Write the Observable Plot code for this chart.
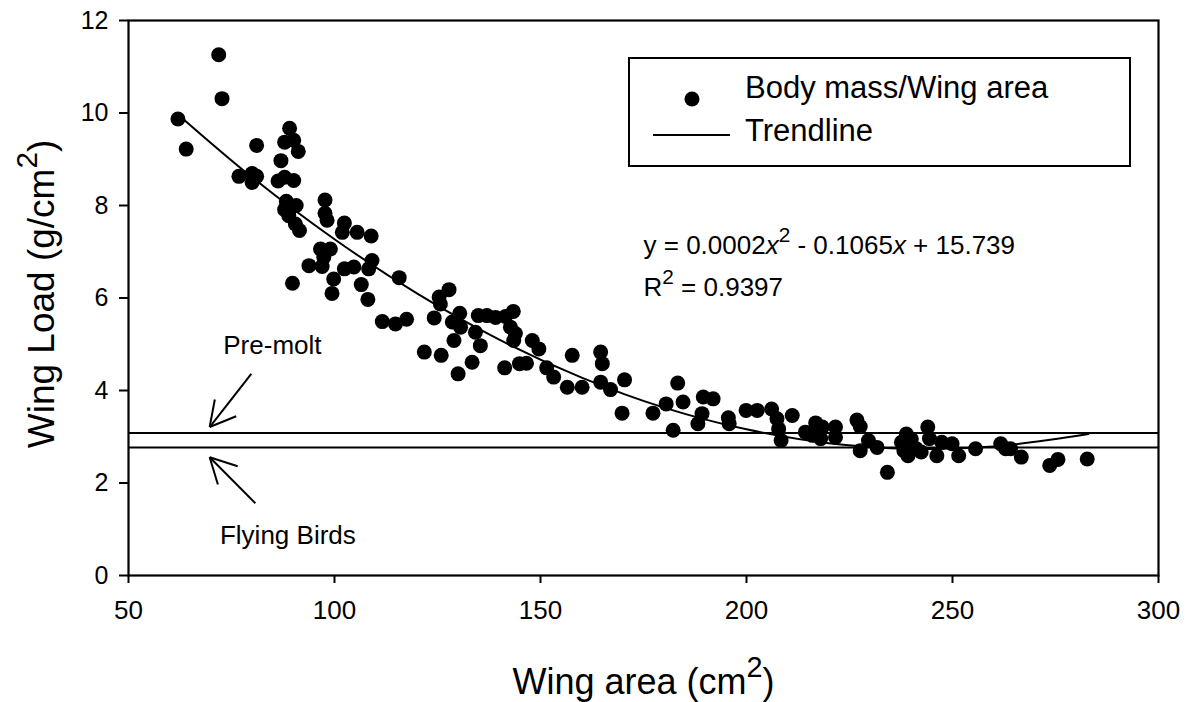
<!DOCTYPE html>
<html><head><meta charset="utf-8">
<script src="https://cdn.jsdelivr.net/npm/d3@7"></script>
<script src="https://cdn.jsdelivr.net/npm/@observablehq/plot@0.6"></script>
<style>
html,body{margin:0;padding:0;background:#fff;}
#chart svg{font-family:"Liberation Sans",Arial,sans-serif;}
</style></head><body><div id="chart"></div>
<script>
// ---- data ----
const wingArea = [
  71.9,72.7,62.0,64.0,81.1,89.1,87.9,90.1,91.2,87.0,76.8,80.0,81.1,80.0,86.3,87.9,90.1,88.3,90.7,87.9,
  88.9,90.5,91.5,97.7,97.7,98.2,102.4,101.9,105.5,108.9,96.6,99.0,97.4,93.8,97.0,102.4,104.7,109.1,108.3,115.7,
  99.8,106.5,89.8,99.4,108.1,
  111.6,114.8,117.5,121.8,125.9,130.0,133.4,129.0,135.4,124.2,127.8,125.4,125.7,130.4,128.6,130.6,134.2,134.9,137.0,139.1,
  141.5,143.4,142.7,143.9,143.5,148.0,149.6,141.3,144.9,146.6,151.5,153.2,157.7,164.6,165.0,156.5,160.1,164.6,167.0,
  170.4,169.8,177.3,180.5,183.3,184.6,182.2,189.5,191.9,189.2,188.2,195.6,195.8,199.9,202.6,206.1,207.4,207.8,208.4,211.1,
  214.3,216.8,218.4,216.0,218.0,221.6,221.6,226.8,227.6,227.6,229.6,231.7,
  234.2,238.8,237.6,239.6,239.2,241.2,242.4,244.0,244.4,246.2,247.4,249.9,251.5,255.6,261.7,262.9,264.1,266.7,273.6,275.6,
  282.7,238.2,240.0
];
const wingLoad = [
  11.26,10.31,9.87,9.22,9.30,9.67,9.37,9.41,9.17,8.97,8.63,8.69,8.63,8.50,8.53,8.61,8.54,8.09,8.00,7.91,
  7.78,7.60,7.46,8.12,7.83,7.68,7.62,7.42,7.42,7.34,7.06,7.06,6.88,6.70,6.68,6.63,6.67,6.81,6.63,6.44,
  6.41,6.29,6.32,6.10,5.97,
  5.49,5.44,5.54,4.83,4.76,4.36,4.61,5.08,4.97,5.57,6.18,6.02,5.87,5.67,5.48,5.37,5.26,5.62,5.62,5.58,
  5.60,5.71,5.37,5.23,5.08,5.08,4.90,4.49,4.58,4.59,4.49,4.29,4.76,4.83,4.58,4.07,4.07,4.18,4.02,
  4.23,3.51,3.51,3.71,4.16,3.75,3.14,3.86,3.82,3.50,3.28,3.41,3.28,3.57,3.57,3.60,3.39,3.17,2.92,3.46,
  3.10,3.30,3.21,3.03,2.96,3.21,2.99,3.36,3.22,2.70,2.92,2.77,
  2.23,3.06,2.88,2.81,2.59,2.74,2.67,3.21,2.96,2.59,2.88,2.85,2.59,2.74,2.85,2.74,2.74,2.56,2.38,2.51,
  2.52,2.70,2.95
];
const trendX = [62, 80, 100, 120, 140, 160, 180, 200, 220, 240, 260, 283];
const trendY = [9.97, 8.61, 7.27, 6.10, 5.10, 4.28, 3.63, 3.16, 2.86, 2.74, 2.79, 3.06];
const xTicks = [50, 100, 150, 200, 250, 300];
const yTicks = [0, 2, 4, 6, 8, 10, 12];
const preMoltLoad = 3.08;
const flyingLoad = 2.77;
const annotationLabels = ["Pre-molt", "Flying Birds"];
const annotationX = [73.0, 72.2];
const annotationY = [4.80, 0.685];
const arrowX1 = [79.8, 70.95, 76.14, 80.8, 71.7, 76.5];
const arrowY1 = [4.36, 3.805, 3.444, 1.563, 1.968, 2.363];
const arrowX2 = [69.7, 69.7, 69.7, 69.7, 69.7, 69.7];
const arrowY2 = [3.21, 3.21, 3.21, 2.558, 2.558, 2.558];
const equationLines = ["y = 0.0002{x}^2 - 0.1065{x} + 15.739", "R^2 = 0.9397"];
const equationX = 175.0;
const equationY = [6.955, 6.05];
const legendLabels = ["Body mass/Wing area", "Trendline"];
const xTitle = "Wing area (cm^2)";
const yTitle = "Wing Load (g/cm^2)";

// ---- build tables ----
const points = wingArea.map((x, i) => ({x, y: wingLoad[i]}));
const trend = trendX.map((x, i) => ({x, y: trendY[i]}));
const arrows = arrowX1.map((x1, i) => ({x1, y1: arrowY1[i], x2: arrowX2[i], y2: arrowY2[i]}));
const notes = annotationLabels.map((t, i) => ({t, x: annotationX[i], y: annotationY[i]}));
const eq = equationLines.map((t, i) => ({t, x: equationX, y: equationY[i]}));

const plot = Plot.plot({
  width: 1186, height: 702,
  marginLeft: 128, marginRight: 28, marginTop: 20, marginBottom: 127,
  style: {fontFamily: "Liberation Sans, Arial, sans-serif", background: "white", color: "black"},
  x: {domain: [50, 300]},
  y: {domain: [0, 12]},
  marks: [
    Plot.ruleY([preMoltLoad, flyingLoad], {stroke: "black", strokeWidth: 2}),
    Plot.line(trend, {x: "x", y: "y", stroke: "black", strokeWidth: 2, curve: "catmull-rom"}),
    Plot.dot(points, {x: "x", y: "y", r: 7.5, fill: "black", stroke: "none"}),
    Plot.link(arrows, {x1: "x1", y1: "y1", x2: "x2", y2: "y2", stroke: "black", strokeWidth: 2}),
    Plot.text(notes, {x: "x", y: "y", text: "t", textAnchor: "start", lineAnchor: "bottom", fontSize: 26, fill: "black"}),
    Plot.text(eq, {x: "x", y: "y", text: "t", textAnchor: "start", lineAnchor: "bottom", fontSize: 26, fill: "black"}),
    Plot.axisX({ticks: xTicks, tickSize: 8, tickPadding: 17, fontSize: 26, label: null, strokeWidth: 2}),
    Plot.axisY({ticks: yTicks, tickSize: 9, tickPadding: 11, fontSize: 25, label: null, strokeWidth: 2}),
    Plot.frame({stroke: "black", strokeWidth: 2.2}),
    Plot.text([xTitle], {frameAnchor: "bottom", textAnchor: "middle", dy: 118, lineAnchor: "bottom", fontSize: 36, fill: "black"}),
    Plot.text([yTitle], {frameAnchor: "left", textAnchor: "middle", rotate: -90, dx: -75, dy: -4, lineAnchor: "bottom", fontSize: 37, fill: "black"})
  ]
});

// ---- rich text: italics and superscripts ----
function richify(el) {
  const str = el.textContent;
  if (!/[\^{]/.test(str)) return;
  const fs = parseFloat(getComputedStyle(el).fontSize) || 26;
  while (el.firstChild) el.removeChild(el.firstChild);
  const parts = str.split(/(\{[^}]*\}|\^\d)/).filter(s => s.length);
  let raised = false;
  for (const p of parts) {
    const ts = document.createElementNS("http://www.w3.org/2000/svg", "tspan");
    if (p.startsWith("^")) {
      ts.textContent = p.slice(1);
      ts.setAttribute("font-size", (fs * 0.8).toFixed(1));
      ts.setAttribute("dy", (-fs * 0.45).toFixed(1));
      raised = true;
    } else {
      if (p.startsWith("{")) { ts.textContent = p.slice(1, -1); ts.setAttribute("font-style", "italic"); }
      else ts.textContent = p;
      if (raised) { ts.setAttribute("dy", (fs * 0.45).toFixed(1)); raised = false; }
    }
    el.appendChild(ts);
  }
}
document.getElementById("chart").appendChild(plot);
plot.querySelectorAll("text").forEach(richify);

// ---- legend box inside the frame ----
const svg = d3.select(plot);
const lg = svg.append("g").attr("font-family", "Liberation Sans, Arial, sans-serif").attr("text-anchor", "start");
lg.append("rect").attr("x", 629).attr("y", 58).attr("width", 501).attr("height", 108)
  .attr("fill", "white").attr("stroke", "black").attr("stroke-width", 2);
lg.append("circle").attr("cx", 692).attr("cy", 99).attr("r", 7.5).attr("fill", "black");
lg.append("line").attr("x1", 653).attr("x2", 730).attr("y1", 135).attr("y2", 135)
  .attr("stroke", "black").attr("stroke-width", 2);
lg.selectAll("text.lbl").data(legendLabels).join("text").attr("class", "lbl")
  .attr("x", 745).attr("y", (d, i) => i === 0 ? 98 : 141)
  .attr("text-anchor", "start")
  .attr("font-size", 31).attr("fill", "black").text(d => d);
</script></body></html>
